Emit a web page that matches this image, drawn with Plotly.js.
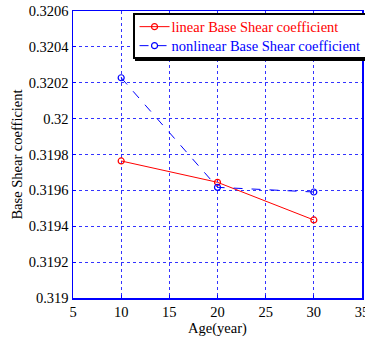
<!DOCTYPE html>
<html>
<head>
<meta charset="utf-8">
<script src="https://cdn.plot.ly/plotly-3.0.1.min.js"></script>
<style>html,body{margin:0;padding:0;background:#fff;}#chart{width:365px;height:341px;}</style>
</head>
<body>
<div id="chart"></div>
<script>
var ages = [10, 20, 30];
var linearShear = [0.319764, 0.319645, 0.319435];
var nonlinearShear = [0.320228, 0.319617, 0.319591];
var xTickVals = [5, 10, 15, 20, 25, 30, 35];
var yTickVals = [0.319, 0.3192, 0.3194, 0.3196, 0.3198, 0.32, 0.3202, 0.3204, 0.3206];
var yTickText = ['0.319', '0.3192', '0.3194', '0.3196', '0.3198', '0.32', '0.3202', '0.3204', '0.3206'];
var seriesNames = ['linear Base Shear coefficient', 'nonlinear Base Shear coefficient'];
var seriesColors = ['#ff0000', '#0000ff'];

var serif = 'Liberation Serif, Times New Roman, serif';
var font = {family: serif, size: 14.5, color: '#000'};

var traces = [
  {
    x: ages, y: linearShear, type: 'scatter', mode: 'lines+markers',
    name: seriesNames[0],
    line: {color: seriesColors[0], width: 1},
    marker: {symbol: 'circle-open', size: 6, color: seriesColors[0], line: {width: 1.2}}
  },
  {
    x: ages, y: nonlinearShear, type: 'scatter', mode: 'lines+markers',
    name: seriesNames[1],
    line: {color: seriesColors[1], width: 1, dash: 'dash'},
    marker: {symbol: 'circle-open', size: 6, color: seriesColors[1], line: {width: 1.2}}
  }
];

var axisCommon = {
  showline: true, mirror: true, linecolor: '#0000ff', linewidth: 1.5,
  showgrid: true, gridcolor: '#3333ff', griddash: 'dot', gridwidth: 1,
  zeroline: false, ticks: 'inside', ticklen: 3, tickcolor: '#0000ff',
  tickfont: font
};

var layout = {
  width: 365, height: 341,
  margin: {l: 73, r: 3, t: 11, b: 43, autoexpand: false},
  paper_bgcolor: '#fff', plot_bgcolor: '#fff',
  font: font,
  showlegend: true,
  xaxis: Object.assign({}, axisCommon, {
    range: [5, 35], tickvals: xTickVals, ticktext: xTickVals.map(String),
    ticklabeloverflow: 'allow',
    title: {text: 'Age(year)', font: font, standoff: 4}
  }),
  yaxis: Object.assign({}, axisCommon, {
    range: [0.319, 0.3206], tickvals: yTickVals, ticktext: yTickText,
    title: {text: 'Base Shear coefficient', font: font, standoff: 2}
  }),
  legend: {
    x: 0.206, y: 0.994, xanchor: 'left', yanchor: 'top',
    bgcolor: '#fff', bordercolor: '#000', borderwidth: 2,
    font: {family: serif, size: 14.5, color: '#000'}, tracegroupgap: 0, itemwidth: 30
  }
};

function parseTranslate(s) {
  var m = /translate\(\s*([-\d.e]+)[ ,]+([-\d.e]+)\s*\)/.exec(s || '');
  return m ? [parseFloat(m[1]), parseFloat(m[2])] : [0, 0];
}

Plotly.newPlot('chart', traces, layout, {displayModeBar: false, staticPlot: true}).then(function () {
  var items = document.querySelectorAll('.legend .traces');
  var shrinkX = 3, lift = 4, trimBottom = 9;
  var shrinkY = 0;
  if (items.length === 2) {
    var t0 = parseTranslate(items[0].getAttribute('transform'));
    var t1 = parseTranslate(items[1].getAttribute('transform'));
    var gap = t1[1] - t0[1];
    var want = 19;
    if (gap > want) shrinkY = gap - want;
    items[0].setAttribute('transform', 'translate(' + t0[0] + ',' + (t0[1] - lift) + ')');
    items[1].setAttribute('transform', 'translate(' + t1[0] + ',' + (t1[1] - lift - shrinkY) + ')');
  }
  document.querySelectorAll('.legend .traces .legendtext').forEach(function (t, i) {
    t.style.fill = seriesColors[i];
    var x = parseFloat(t.getAttribute('x')) || 40;
    t.setAttribute('x', x - shrinkX);
    t.querySelectorAll('tspan[x]').forEach(function (ts) {
      ts.setAttribute('x', (parseFloat(ts.getAttribute('x')) || x) - shrinkX);
    });
  });
  var bg = document.querySelector('.legend rect.bg');
  if (bg) {
    var h = parseFloat(bg.getAttribute('height'));
    var w = parseFloat(bg.getAttribute('width'));
    bg.setAttribute('height', h - shrinkY - trimBottom);
    bg.setAttribute('width', w - shrinkX);
    var sh = bg.cloneNode(false);
    sh.setAttribute('class', 'legendshadow');
    sh.style.fill = '#000';
    sh.style.stroke = '#000';
    sh.setAttribute('transform', 'translate(2.5,2.5)');
    bg.parentNode.insertBefore(sh, bg);
  }
});
</script>
</body>
</html>
